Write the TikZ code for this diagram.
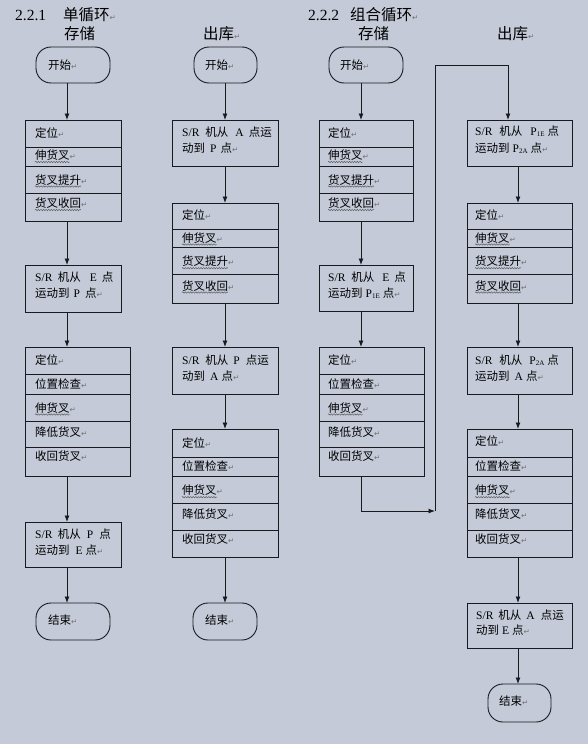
\documentclass[tikz,border=0pt]{standalone}
\usepackage{fontspec}
\setmainfont{Liberation Serif}
\newfontfamily\cjk{Noto Sans CJK SC}
\newfontfamily\dvs{DejaVu Sans}
\usetikzlibrary{arrows.meta,decorations.pathmorphing}
\definecolor{bgc}{RGB}{196,202,216}
\definecolor{linec}{RGB}{25,25,30}
\definecolor{retc}{RGB}{115,115,120}
\newcommand\ret{{\dvs\color{retc}\fontsize{7.5}{8}\selectfont ↵}}
\newcommand\la[1]{{\rmfamily #1}}
\newcommand\sub[1]{\raisebox{-1.2pt}{\fontsize{7}{7}\selectfont\rmfamily #1}}
\tikzset{
  rowbox/.style={draw=linec, line width=0.9pt, inner sep=0pt, outer sep=0pt, anchor=north west},
  term/.style={draw=linec, line width=0.9pt, rounded corners=15pt, inner sep=0pt, outer sep=0pt, anchor=north west},
  txt/.style={anchor=base west, inner sep=0pt, font=\cjk\fontsize{11.5}{14}\selectfont, text=black},
  ttl/.style={anchor=base west, inner sep=0pt, font=\cjk\fontsize{15.5}{18}\selectfont, text=black},
  arr/.style={draw=linec, line width=0.9pt, -{Latex[length=6.5pt,width=5pt]}},
  squig/.style={draw=black!65, line width=0.45pt, decorate, decoration={snake, amplitude=0.7pt, segment length=2.6pt}}
}
\begin{document}
\begin{tikzpicture}[x=1pt,y=-1pt]
\fill[bgc] (0,0) rectangle (588,744);
\useasboundingbox (0,0) rectangle (588,744);

% ---------- titles ----------
\node[ttl, font=\rmfamily\fontsize{15.5}{18}\selectfont] (t1n) at (15,20) {2.2.1};
\node[ttl] (t1z) at (63,20) {单循环\ret};
\node[ttl] (t1c) at (64,39) {存储};
\node[ttl] (t2c) at (203,39) {出库\ret};
\node[ttl, font=\rmfamily\fontsize{15.5}{18}\selectfont] (t3n) at (308,20) {2.2.2};
\node[ttl] (t3z) at (350,20) {组合循环\ret};
\node[ttl] (t3c) at (358,39) {存储};
\node[ttl] (t4c) at (497,39) {出库\ret};

% column axes and turn points
\coordinate (ax1) at (67,0);
\coordinate (ax2) at (225,0);
\coordinate (ax3) at (361,0);
\coordinate (ax4) at (518,0);
\coordinate (turn) at (435,511);
\coordinate (ax4top) at (508,65);

% ================= column 1 =================
\node[term, minimum width=74pt, minimum height=36pt] (s1) at (36,47) {};
\node[txt] (ts1) at (48,69) {开始\ret};

\node[rowbox, minimum width=96pt, minimum height=27pt] (b1a) at (25,120) {};
\node[rowbox, minimum width=96pt, minimum height=19pt] (b1b) at (25,147) {};
\node[rowbox, minimum width=96pt, minimum height=27pt] (b1c) at (25,166) {};
\node[rowbox, minimum width=96pt, minimum height=28pt] (b1d) at (25,193) {};
\node[txt] (tb1a) at (35,137.5) {定位\ret};
\node[txt] (tb1b) at (35,159.5) {伸货叉\ret};
\node[txt] (tb1c) at (35,184) {货叉提升\ret};
\node[txt] (tb1d) at (35,207.5) {货叉收回\ret};
\draw[squig] ([yshift=-2.5pt]tb1b.base west) -- ++(35,0);
\draw[squig] ([yshift=-2.5pt]tb1c.base west) -- ++(46,0);
\draw[squig] ([yshift=-2.5pt]tb1d.base west) -- ++(46,0);

\node[rowbox, minimum width=96pt, minimum height=47pt] (m1) at (25,265) {};
\node[txt] (tm1a) at (35,281) {\la{S/R}\hspace{5.5pt}机从\hspace{9pt}\la{E}\hspace{5pt}点};
\node[txt] (tm1b) at (35,297) {运动到\hspace{4pt}\la{P}\hspace{5pt}点\ret};

\node[rowbox, minimum width=105pt, minimum height=27pt] (b2a) at (25,347) {};
\node[rowbox, minimum width=105pt, minimum height=20pt] (b2b) at (25,374) {};
\node[rowbox, minimum width=105pt, minimum height=27pt] (b2c) at (25,394) {};
\node[rowbox, minimum width=105pt, minimum height=26pt] (b2d) at (25,421) {};
\node[rowbox, minimum width=105pt, minimum height=29pt] (b2e) at (25,447) {};
\node[txt] (tb2a) at (35,364.7) {定位\ret};
\node[txt] (tb2b) at (35,388) {位置检查\ret};
\node[txt] (tb2c) at (35,412) {伸货叉\ret};
\node[txt] (tb2d) at (35,436) {降低货叉\ret};
\node[txt] (tb2e) at (35,460) {收回货叉\ret};
\draw[squig] ([yshift=-2.5pt]tb2c.base west) -- ++(35,0);

\node[rowbox, minimum width=96pt, minimum height=45pt] (m2) at (25,522) {};
\node[txt] (tm2a) at (35,538) {\la{S/R}\hspace{5.5pt}机从\hspace{6pt}\la{P}\hspace{6pt}点};
\node[txt] (tm2b) at (35,554) {运动到\hspace{6pt}\la{E}\hspace{3pt}点\ret};

\node[term, minimum width=74pt, minimum height=37pt] (e1) at (36,603) {};
\node[txt] (te1) at (48,624) {结束\ret};

\draw[arr] (s1.south -| ax1) -- (b1a.north -| ax1);
\draw[arr] (b1d.south -| ax1) -- (m1.north -| ax1);
\draw[arr] (m1.south -| ax1) -- (b2a.north -| ax1);
\draw[arr] (b2e.south -| ax1) -- (m2.north -| ax1);
\draw[arr] (m2.south -| ax1) -- (e1.north -| ax1);

% ================= column 2 =================
\node[term, minimum width=63pt, minimum height=36pt] (s2) at (194,47) {};
\node[txt] (ts2) at (205,69) {开始\ret};

\node[rowbox, minimum width=106pt, minimum height=46pt] (m3) at (172,120) {};
\node[txt] (tm3a) at (182,136.7) {\la{S/R}\hspace{6pt}机从\hspace{7pt}\la{A}\hspace{5pt}点运};
\node[txt] (tm3b) at (182,152.7) {动到\hspace{5pt}\la{P}\hspace{4pt}点\ret};

\node[rowbox, minimum width=106pt, minimum height=26pt] (b3a) at (172,203) {};
\node[rowbox, minimum width=106pt, minimum height=18pt] (b3b) at (172,229) {};
\node[rowbox, minimum width=106pt, minimum height=27pt] (b3c) at (172,247) {};
\node[rowbox, minimum width=106pt, minimum height=29pt] (b3d) at (172,274) {};
\node[txt] (tb3a) at (182,219) {定位\ret};
\node[txt] (tb3b) at (182,242) {伸货叉\ret};
\node[txt] (tb3c) at (182,265.7) {货叉提升\ret};
\node[txt] (tb3d) at (182,290) {货叉收回\ret};
\draw[squig] ([yshift=-2.5pt]tb3b.base west) -- ++(35,0);
\draw[squig] ([yshift=-2.5pt]tb3c.base west) -- ++(46,0);
\draw[squig] ([yshift=-2.5pt]tb3d.base west) -- ++(46,0);

\node[rowbox, minimum width=106pt, minimum height=47pt] (m4) at (172,347) {};
\node[txt] (tm4a) at (182,364.7) {\la{S/R}\hspace{6pt}机从\hspace{5pt}\la{P}\hspace{6pt}点运};
\node[txt] (tm4b) at (182,380.7) {动到\hspace{5pt}\la{A}\hspace{3pt}点\ret};

\node[rowbox, minimum width=106pt, minimum height=28pt] (b4a) at (172,429) {};
\node[rowbox, minimum width=106pt, minimum height=19pt] (b4b) at (172,457) {};
\node[rowbox, minimum width=106pt, minimum height=27pt] (b4c) at (172,476) {};
\node[rowbox, minimum width=106pt, minimum height=27pt] (b4d) at (172,503) {};
\node[rowbox, minimum width=106pt, minimum height=27pt] (b4e) at (172,530) {};
\node[txt] (tb4a) at (182,447) {定位\ret};
\node[txt] (tb4b) at (182,470) {位置检查\ret};
\node[txt] (tb4c) at (182,494.7) {伸货叉\ret};
\node[txt] (tb4d) at (182,518) {降低货叉\ret};
\node[txt] (tb4e) at (182,543) {收回货叉\ret};
\draw[squig] ([yshift=-2.5pt]tb4c.base west) -- ++(35,0);

\node[term, minimum width=64pt, minimum height=37pt] (e2) at (193,603) {};
\node[txt] (te2) at (205,624) {结束\ret};

\draw[arr] (s2.south -| ax2) -- (m3.north -| ax2);
\draw[arr] (m3.south -| ax2) -- (b3a.north -| ax2);
\draw[arr] (b3d.south -| ax2) -- (m4.north -| ax2);
\draw[arr] (m4.south -| ax2) -- (b4a.north -| ax2);
\draw[arr] (b4e.south -| ax2) -- (e2.north -| ax2);

% ================= column 3 =================
\node[term, minimum width=74pt, minimum height=36pt] (s3) at (329,47) {};
\node[txt] (ts3) at (340,69) {开始\ret};

\node[rowbox, minimum width=94pt, minimum height=27pt] (b5a) at (319,120) {};
\node[rowbox, minimum width=94pt, minimum height=19pt] (b5b) at (319,147) {};
\node[rowbox, minimum width=94pt, minimum height=27pt] (b5c) at (319,166) {};
\node[rowbox, minimum width=94pt, minimum height=28pt] (b5d) at (319,193) {};
\node[txt] (tb5a) at (328,137.5) {定位\ret};
\node[txt] (tb5b) at (328,159.5) {伸货叉\ret};
\node[txt] (tb5c) at (328,184) {货叉提升\ret};
\node[txt] (tb5d) at (328,207.5) {货叉收回\ret};
\draw[squig] ([yshift=-2.5pt]tb5b.base west) -- ++(35,0);
\draw[squig] ([yshift=-2.5pt]tb5c.base west) -- ++(46,0);
\draw[squig] ([yshift=-2.5pt]tb5d.base west) -- ++(46,0);

\node[rowbox, minimum width=94pt, minimum height=46pt] (m5) at (319,265) {};
\node[txt] (tm5a) at (328,281) {\la{S/R}\hspace{6pt}机从\hspace{8pt}\la{E}\hspace{5pt}点};
\node[txt] (tm5b) at (328,297) {运动到\hspace{3pt}\la{P}\sub{1E}\hspace{3pt}点\ret};

\node[rowbox, minimum width=105pt, minimum height=27pt] (b6a) at (319,347) {};
\node[rowbox, minimum width=105pt, minimum height=20pt] (b6b) at (319,374) {};
\node[rowbox, minimum width=105pt, minimum height=27pt] (b6c) at (319,394) {};
\node[rowbox, minimum width=105pt, minimum height=26pt] (b6d) at (319,421) {};
\node[rowbox, minimum width=105pt, minimum height=29pt] (b6e) at (319,447) {};
\node[txt] (tb6a) at (328,364.7) {定位\ret};
\node[txt] (tb6b) at (328,388) {位置检查\ret};
\node[txt] (tb6c) at (328,412) {伸货叉\ret};
\node[txt] (tb6d) at (328,436) {降低货叉\ret};
\node[txt] (tb6e) at (328,460) {收回货叉\ret};
\draw[squig] ([yshift=-2.5pt]tb6c.base west) -- ++(35,0);

\draw[arr] (s3.south -| ax3) -- (b5a.north -| ax3);
\draw[arr] (b5d.south -| ax3) -- (m5.north -| ax3);
\draw[arr] (m5.south -| ax3) -- (b6a.north -| ax3);
\draw[arr] (b6e.south -| ax3) |- (turn);

% ================= column 4 =================
\node[rowbox, minimum width=105pt, minimum height=46pt] (m6) at (467,120) {};
\node[txt] (tm6a) at (475,135.7) {\la{S/R}\hspace{7pt}机从\hspace{8pt}\la{P}\sub{1E}\hspace{3pt}点};
\node[txt] (tm6b) at (475,152.3) {运动到\hspace{3pt}\la{P}\sub{2A}\hspace{3pt}点\ret};

\node[rowbox, minimum width=105pt, minimum height=26pt] (b7a) at (467,203) {};
\node[rowbox, minimum width=105pt, minimum height=18pt] (b7b) at (467,229) {};
\node[rowbox, minimum width=105pt, minimum height=27pt] (b7c) at (467,247) {};
\node[rowbox, minimum width=105pt, minimum height=29pt] (b7d) at (467,274) {};
\node[txt] (tb7a) at (475,219) {定位\ret};
\node[txt] (tb7b) at (475,242) {伸货叉\ret};
\node[txt] (tb7c) at (475,265.7) {货叉提升\ret};
\node[txt] (tb7d) at (475,290) {货叉收回\ret};
\draw[squig] ([yshift=-2.5pt]tb7b.base west) -- ++(35,0);
\draw[squig] ([yshift=-2.5pt]tb7c.base west) -- ++(46,0);
\draw[squig] ([yshift=-2.5pt]tb7d.base west) -- ++(46,0);

\node[rowbox, minimum width=105pt, minimum height=47pt] (m7) at (467,347) {};
\node[txt] (tm7a) at (475,364) {\la{S/R}\hspace{7pt}机从\hspace{7pt}\la{P}\sub{2A}\hspace{3pt}点};
\node[txt] (tm7b) at (475,380.7) {运动到\hspace{5pt}\la{A}\hspace{3pt}点\ret};

\node[rowbox, minimum width=105pt, minimum height=28pt] (b8a) at (467,429) {};
\node[rowbox, minimum width=105pt, minimum height=19pt] (b8b) at (467,457) {};
\node[rowbox, minimum width=105pt, minimum height=27pt] (b8c) at (467,476) {};
\node[rowbox, minimum width=105pt, minimum height=27pt] (b8d) at (467,503) {};
\node[rowbox, minimum width=105pt, minimum height=27pt] (b8e) at (467,530) {};
\node[txt] (tb8a) at (475,445.7) {定位\ret};
\node[txt] (tb8b) at (475,470) {位置检查\ret};
\node[txt] (tb8c) at (475,494.7) {伸货叉\ret};
\node[txt] (tb8d) at (475,518) {降低货叉\ret};
\node[txt] (tb8e) at (475,543.3) {收回货叉\ret};
\draw[squig] ([yshift=-2.5pt]tb8c.base west) -- ++(35,0);

\node[rowbox, minimum width=105pt, minimum height=45pt] (m8) at (467,603) {};
\node[txt] (tm8a) at (476,619) {\la{S/R}\hspace{5pt}机从\hspace{5pt}\la{A}\hspace{6pt}点运};
\node[txt] (tm8b) at (476,634.7) {动到\hspace{3pt}\la{E}\hspace{3pt}点\ret};

\node[term, minimum width=63pt, minimum height=38pt] (e3) at (488,684) {};
\node[txt] (te3) at (499,705.7) {结束\ret};

\draw[arr] (turn) |- (ax4top) -- (m6.north -| ax4top);
\draw[arr] (m6.south -| ax4) -- (b7a.north -| ax4);
\draw[arr] (b7d.south -| ax4) -- (m7.north -| ax4);
\draw[arr] (m7.south -| ax4) -- (b8a.north -| ax4);
\draw[arr] (b8e.south -| ax4) -- (m8.north -| ax4);
\draw[arr] (m8.south -| ax4) -- (e3.north -| ax4);
\end{tikzpicture}
\end{document}
